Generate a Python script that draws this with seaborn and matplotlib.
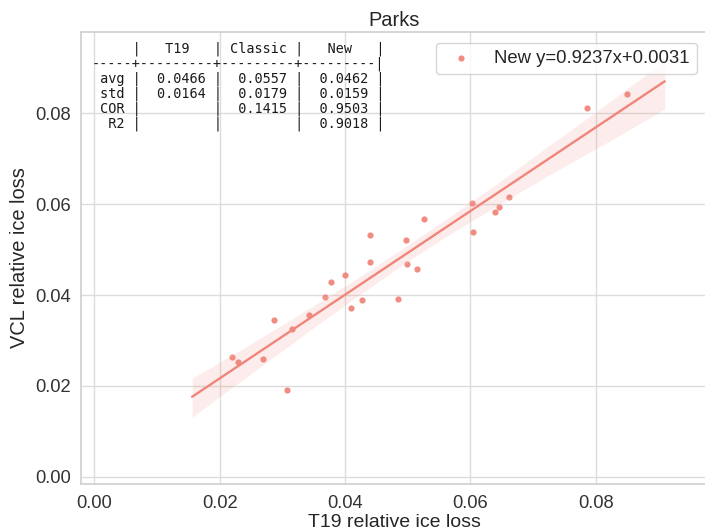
import matplotlib
matplotlib.use("Agg")
import matplotlib.pyplot as plt
import numpy as np
import pandas as pd
import seaborn as sns

# Relative ice loss per glacier: T19 reference vs. VCL (new method)
t19_loss = [0.02201, 0.02287, 0.02695, 0.02866, 0.03068, 0.03148, 0.03419,
            0.03684, 0.03775, 0.03993, 0.04093, 0.04264, 0.04392, 0.04392,
            0.04843, 0.04971, 0.04986, 0.05141, 0.05253, 0.06018, 0.06039,
            0.06390, 0.06454, 0.06618, 0.07852, 0.08499]
vcl_loss = [0.02642, 0.02532, 0.02591, 0.03443, 0.01902, 0.03245, 0.03560,
            0.03956, 0.04280, 0.04441, 0.03708, 0.03890, 0.05328, 0.04734,
            0.03906, 0.05205, 0.04683, 0.04579, 0.05667, 0.06033, 0.05381,
            0.05821, 0.05931, 0.06151, 0.08111, 0.08432]

# Fit reported in the legend
fit_slope = 0.9237
fit_intercept = 0.0031

# Summary statistics table
stat_rows = ["avg", "std", "COR", "R2"]
stat_cols = ["T19", "Classic", "New"]
stat_t19 = [0.0466, 0.0164, None, None]
stat_classic = [0.0557, 0.0179, 0.1415, None]
stat_new = [0.0462, 0.0159, 0.9503, 0.9018]

df = pd.DataFrame({"t19": t19_loss, "vcl": vcl_loss})

sns.set_theme(style="whitegrid", context="notebook", font_scale=1.2)
plt.rcParams["font.family"] = ["Liberation Sans", "DejaVu Sans"]
plt.rcParams["axes.edgecolor"] = "#d0d0d0"
plt.rcParams["grid.color"] = "#dcdcdc"

fig = plt.figure(figsize=(7.05, 5.31), dpi=100)
ax = fig.add_axes([81 / 705, 47 / 531, 627 / 705, 452 / 531])

point_color = "#f0867b"
ax.set_xlim(0.0156, 0.0910)
sns.regplot(data=df, x="t19", y="vcl", ax=ax, truncate=False,
            color=point_color,
            scatter_kws={"s": 20, "linewidths": 0, "alpha": 0.95},
            line_kws={"linewidth": 1.7},
            label=f"New y={fit_slope}x+{fit_intercept}")

ax.set_xlim(-0.00212, 0.0979)
ax.set_ylim(-0.0016, 0.0979)
ax.set_xticks([0.00, 0.02, 0.04, 0.06, 0.08])
ax.set_yticks([0.00, 0.02, 0.04, 0.06, 0.08])
ax.tick_params(labelsize=13.2, colors="#333333")
ax.tick_params(axis="x", pad=1.8)
ax.tick_params(axis="y", pad=1.5)
ax.set_xlabel("T19 relative ice loss", fontsize=14, color="#262626", va="bottom")
ax.xaxis.set_label_coords(0.5, -0.1035)
ax.set_ylabel("VCL relative ice loss", fontsize=14.4, color="#262626", labelpad=4)
ax.set_title("Parks", fontsize=14.4, color="#262626", pad=4.5)


def fmt(v):
    return "" if v is None else f"{v:.4f}"


lines = ["     |" + "".join(c.center(9) + "|" for c in stat_cols)]
lines.append("-----+" + "---------+" * 2 + "---------|")
for name, a, b, c in zip(stat_rows, stat_t19, stat_classic, stat_new):
    lines.append(f"{name:>4} |" + "".join(fmt(v).center(9) + "|" for v in (a, b, c)))
table_text = "\n".join(lines)

ax.text(0.017, 0.979, table_text, transform=ax.transAxes, ha="left", va="top",
        family="DejaVu Sans Mono", fontsize=9.75, linespacing=1.05, color="#1a1a1a")

ax.legend(loc="upper right", bbox_to_anchor=(697 / 705, (531 - 42.7) / 531),
          bbox_transform=fig.transFigure, borderaxespad=0, fontsize=13.3,
          borderpad=0.38, frameon=True)

fig.savefig("out.png", dpi=100)
